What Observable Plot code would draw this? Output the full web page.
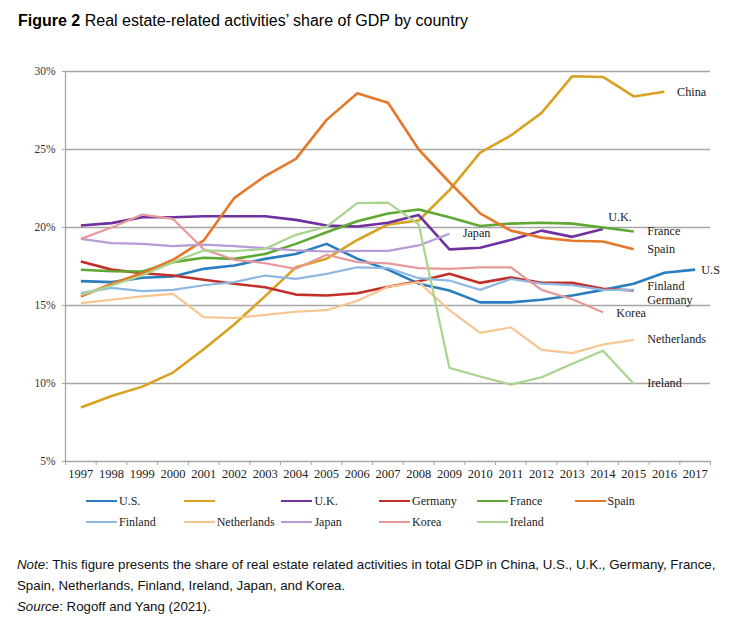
<!DOCTYPE html>
<html>
<head>
<meta charset="utf-8">
<script src="https://cdn.jsdelivr.net/npm/d3@7"></script>
<script src="https://cdn.jsdelivr.net/npm/@observablehq/plot@0.6"></script>
<style>
  html, body { margin: 0; padding: 0; background: #fff; width: 734px; height: 617px; overflow: hidden; }
  #wrap { position: relative; width: 734px; height: 617px; }
  #title { position: absolute; left: 18px; top: 12px; font-family: "Liberation Sans", Arial, sans-serif; font-size: 16px; color: #000; white-space: nowrap; }
  #chart { position: absolute; left: 10px; top: 55px; }
  #legend { position: absolute; left: 0; top: 0; width: 734px; height: 617px; pointer-events: none; }
  .lg { position: absolute; display: flex; align-items: center; white-space: nowrap; font-family: "Liberation Serif", "Times New Roman", serif; font-size: 12px; color: #222; }
  .lg .sw { display: inline-block; width: 31px; height: 2.6px; margin-right: 2px; }
  #note { position: absolute; left: 17px; top: 554px; font-family: "Liberation Sans", Arial, sans-serif; font-size: 13.3px; line-height: 21px; color: #111; width: 717px; white-space: nowrap; }
</style>
</head>
<body>
<div id="wrap">
  <div id="title"><b>Figure 2</b> Real estate-related activities’ share of GDP by country</div>
  <div id="chart"></div>
  <div id="legend"></div>
  <div id="note"><i>Note</i>: This figure presents the share of real estate related activities in total GDP in China, U.S., U.K., Germany, France,<br>Spain, Netherlands, Finland, Ireland, Japan, and Korea.<br><i>Source</i>: Rogoff and Yang (2021).</div>
</div>
<script>
// ---- Data (share of GDP, %) ----
const years = [1997,1998,1999,2000,2001,2002,2003,2004,2005,2006,2007,2008,2009,2010,2011,2012,2013,2014,2015,2016,2017];
const yTicks = [5, 10, 15, 20, 25, 30];

const seriesNames = ["U.S.", "China", "U.K.", "Germany", "France", "Spain", "Finland", "Netherlands", "Japan", "Korea", "Ireland"];
const legendLabels = ["U.S.", "", "U.K.", "Germany", "France", "Spain", "Finland", "Netherlands", "Japan", "Korea", "Ireland"];
const seriesColors = ["#2a7ebf", "#d8a122", "#7030a0", "#c1302a", "#5fa833", "#e5782a", "#8eb8e3", "#f8c591", "#b69bd4", "#e7999a", "#a9d38f"];

const us          = [16.56,16.5,16.78,16.86,17.35,17.56,17.99,18.3,18.95,18.0,17.3,16.4,15.96,15.2,15.2,15.37,15.64,16.0,16.4,17.1,17.3];
const china       = [8.46,9.2,9.8,10.7,12.2,13.8,15.6,17.45,18.0,19.2,20.2,20.45,22.4,24.8,25.9,27.35,29.7,29.65,28.4,28.7];
const uk          = [20.13,20.28,20.66,20.66,20.72,20.72,20.72,20.49,20.13,20.06,20.3,20.8,18.6,18.7,19.2,19.8,19.4,19.9];
const germany     = [17.82,17.3,17.07,16.92,16.65,16.39,16.17,15.7,15.64,15.79,16.2,16.56,17.03,16.45,16.8,16.45,16.45,16.07,15.96];
const france      = [17.29,17.2,17.18,17.78,18.06,17.99,18.3,18.95,19.7,20.4,20.9,21.15,20.66,20.1,20.25,20.3,20.25,20.0,19.74];
const spain       = [15.58,16.39,17.07,17.93,19.17,21.9,23.3,24.4,26.9,28.6,28.0,25.0,22.9,20.9,19.8,19.35,19.15,19.1,18.6];
const finland     = [15.8,16.13,15.92,16.0,16.3,16.5,16.92,16.71,17.03,17.45,17.4,16.75,16.6,16.0,16.7,16.4,16.3,16.0,16.0];
const netherlands = [15.15,15.37,15.58,15.75,14.25,14.2,14.4,14.6,14.7,15.3,16.2,16.5,14.7,13.25,13.6,12.16,11.95,12.5,12.8];
const japan       = [19.27,19.0,18.95,18.8,18.9,18.8,18.68,18.53,18.46,18.5,18.5,18.85,19.6];
const korea       = [19.27,20.0,20.83,20.55,18.6,17.93,17.71,17.35,18.25,17.78,17.7,17.4,17.35,17.45,17.45,16.0,15.4,14.57];
const ireland     = [15.68,16.28,16.92,17.78,18.53,18.48,18.63,19.53,20.06,21.56,21.6,20.2,11.0,10.45,9.93,10.4,11.26,12.1,9.98];

const seriesValues = [us, china, uk, germany, france, spain, finland, netherlands, japan, korea, ireland];
const seriesWidths = [2.6, 2.6, 2.6, 2.6, 2.6, 2.6, 2.2, 2.2, 2.2, 2.2, 2.2];

// Inline label annotations (year, value)
const labelNames  = ["China", "U.K.", "France", "Spain", "U.S", "Finland", "Germany", "Korea", "Netherlands", "Ireland", "Japan"];
const labelYears  = [2016.41, 2014.17, 2015.44, 2015.44, 2017.2, 2015.44, 2015.44, 2014.43, 2015.44, 2015.44, 2009.43];
const labelValues = [28.7, 20.64, 19.76, 18.63, 17.3, 16.22, 15.36, 14.53, 12.87, 10.04, 19.63];

// ---- Build tables ----
const rows = [];
seriesNames.forEach((name, i) => {
  seriesValues[i].forEach((v, j) => rows.push({series: name, year: years[j], value: v}));
});
const labels = labelNames.map((n, i) => ({name: n, year: labelYears[i], value: labelValues[i]}));
const halfYears = [years[0] - 0.5, ...years.map(y => y + 0.5)];

const serif = "'Liberation Serif', 'Times New Roman', serif";
const grid = "#a6a6a6";

const lineMarks = seriesNames.map((name, i) =>
  Plot.line(rows.filter(d => d.series === name), {
    x: "year", y: "value",
    stroke: seriesColors[i], strokeWidth: seriesWidths[i],
    strokeLinejoin: "round", strokeLinecap: "butt"
  })
);

const chart = Plot.plot({
  width: 724,
  height: 435,
  marginLeft: 55,
  marginRight: 24,
  marginTop: 16,
  marginBottom: 29,
  style: {fontFamily: serif, background: "transparent", overflow: "visible"},
  x: {domain: [halfYears[0], halfYears[halfYears.length - 1]]},
  y: {domain: [5, 30]},
  marks: [
    Plot.gridY(yTicks, {stroke: grid, strokeOpacity: 1, strokeWidth: 1.3}),
    Plot.ruleX([halfYears[0]], {stroke: grid, strokeWidth: 1.3}),
    Plot.axisY({ticks: yTicks, tickFormat: d => d + "%", tickSize: 3, tickPadding: 7, stroke: grid, fontSize: 11.5, fill: "#333", label: null}),
    Plot.axisX({ticks: halfYears, tickFormat: () => "", tickSize: 4, stroke: grid, label: null}),
    Plot.axisX({ticks: years, tickFormat: d => String(d), tickSize: 0, tickPadding: 8, fontSize: 12.5, fill: "#222", label: null}),
    ...lineMarks,
    Plot.text(labels, {x: "year", y: "value", text: "name", textAnchor: "start", fontSize: 12.2, fill: "#222", fontFamily: serif})
  ]
});
document.getElementById("chart").appendChild(chart);

// ---- Legend (HTML, below the SVG) ----
const legend = document.getElementById("legend");
seriesNames.forEach((name, i) => {
  const col = i % 6, row = Math.floor(i / 6);
  const item = document.createElement("div");
  item.className = "lg";
  item.style.left = (86 + col * 97.7) + "px";
  item.style.top = (493 + row * 21) + "px";
  item.style.height = "16px";
  const sw = document.createElement("span");
  sw.className = "sw";
  sw.style.background = seriesColors[i];
  const tx = document.createElement("span");
  tx.textContent = legendLabels[i];
  item.appendChild(sw);
  item.appendChild(tx);
  legend.appendChild(item);
});
</script>
</body>
</html>
